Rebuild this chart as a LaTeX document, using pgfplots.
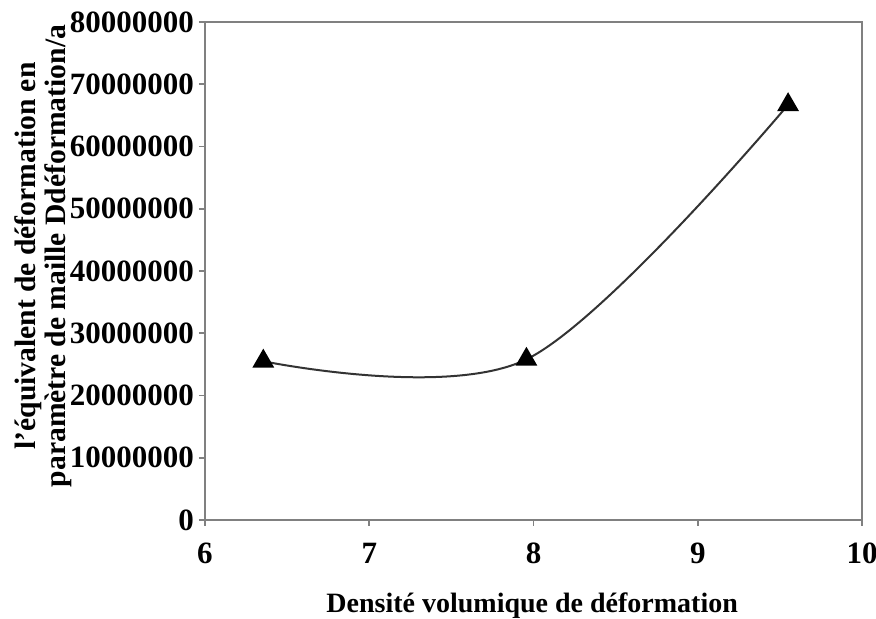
\documentclass[border=0pt]{standalone}
\usepackage{pgfplots}
\pgfplotsset{compat=1.18}
\usepackage{fontspec}
\setmainfont{Liberation Serif}
\begin{document}
\begin{tikzpicture}
\useasboundingbox (-102.5pt,-49.5pt) rectangle (335.5pt,260pt);
\begin{axis}[
  at={(0,0)}, anchor=south west,
  scale only axis, width=328.5pt, height=249pt,
  xmin=6, xmax=10, ymin=0, ymax=80000000,
  xtick={6,7,8,9,10},
  ytick={0,10000000,20000000,30000000,40000000,50000000,60000000,70000000,80000000},
  yticklabels={0,10000000,20000000,30000000,40000000,50000000,60000000,70000000,80000000},
  xticklabels={6,7,8,9,10},
  scaled y ticks=false, scaled x ticks=false,
  tick align=outside, major tick length=3pt,
  xtick pos=bottom, ytick pos=left,
  axis line style={black!50, line width=1pt},
  tick style={black!50, line width=0.8pt},
  every tick label/.append style={font=\fontsize{15.5}{18}\selectfont\bfseries},
  xticklabel style={yshift=-5pt},
  yticklabel style={xshift=1pt},
  xlabel={Densité volumique de déformation},
  xlabel style={font=\fontsize{14}{16}\selectfont\bfseries, at={(axis description cs:0.498,-0.172)}, anchor=center},
  ylabel={l'équivalent de déformation en\\paramètre de maille Ddéformation/a},
  ylabel style={font=\fontsize{14.8}{15}\selectfont\bfseries, align=center, at={(axis description cs:-0.246,0.53)}, anchor=center},
  clip=false,
]
\addplot[smooth, tension=0.55, black!80, line width=1pt, mark=triangle*, mark size=5.3pt, mark options={solid, fill=black, draw=black}]
  coordinates {(6.355,25500000) (7.957,25800000) (9.55,66700000)};
\end{axis}
\end{tikzpicture}
\end{document}
